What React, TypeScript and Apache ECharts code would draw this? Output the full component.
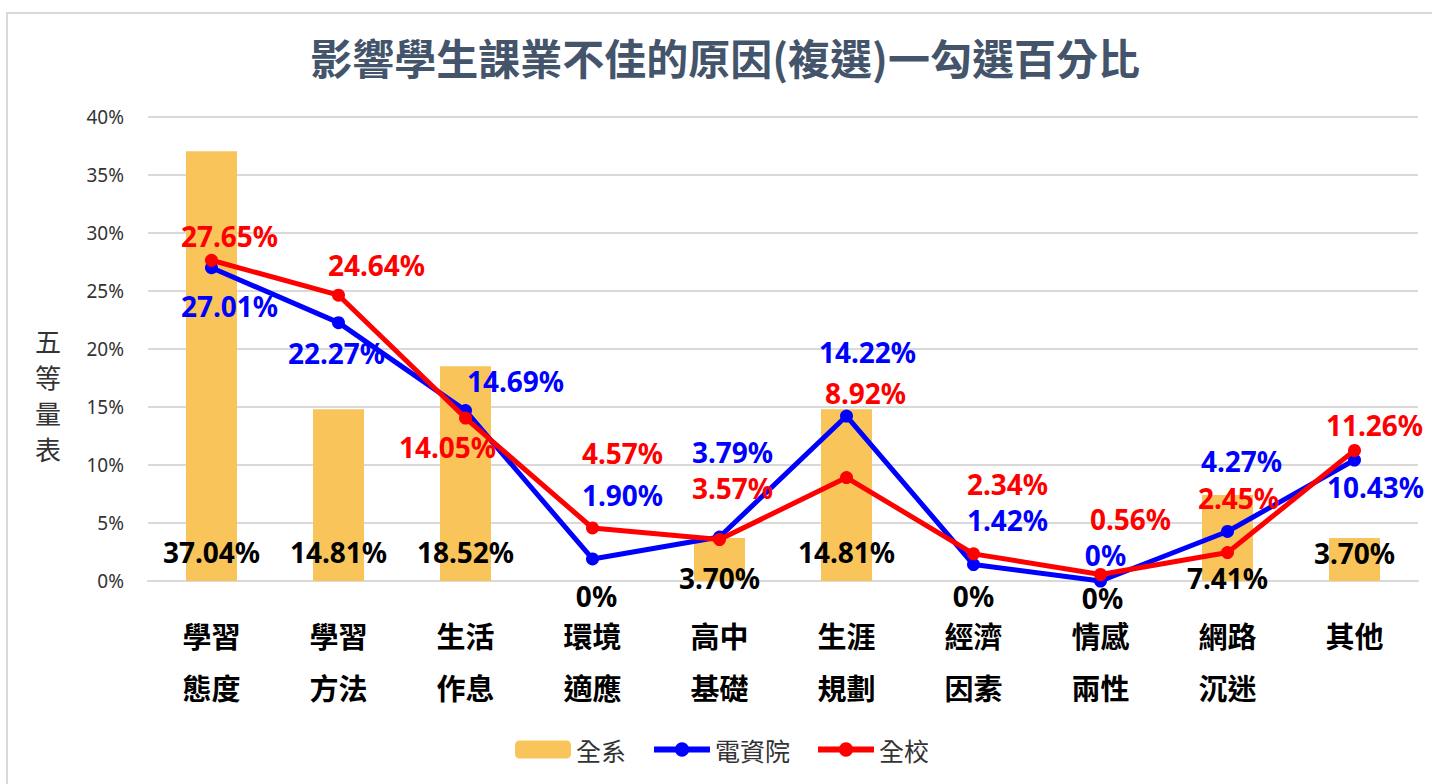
import React, { useEffect, useRef } from "react";
import * as echarts from "echarts";

// ---- Data ----
const categories = [
  "學習\n態度",
  "學習\n方法",
  "生活\n作息",
  "環境\n適應",
  "高中\n基礎",
  "生涯\n規劃",
  "經濟\n因素",
  "情感\n兩性",
  "網路\n沉迷",
  "其他",
];
const deptValues = [37.04, 14.81, 18.52, 0, 3.7, 14.81, 0, 0, 7.41, 3.7]; // 全系
const collegeValues = [27.01, 22.27, 14.69, 1.9, 3.79, 14.22, 1.42, 0, 4.27, 10.43]; // 電資院
const schoolValues = [27.65, 24.64, 14.05, 4.57, 3.57, 8.92, 2.34, 0.56, 2.45, 11.26]; // 全校
const seriesNames = ["全系", "電資院", "全校"];
const titleText = "影響學生課業不佳的原因(複選)一勾選百分比";
const yAxisName = "五\n等\n量\n表";
const yMin = 0;
const yMax = 40;
const yStep = 5;

// ---- Label layout (pixel offsets, styling only) ----
const barLabelOffsets = [
  [0, -15], [0, -15], [0, -15], [4, 29], [0, 11],
  [0, -15], [0, 29], [2, 31], [0, 11], [0, -14],
];
const collegeLabelOffsets = [
  [18, 38], [-2, 30], [50, -30], [30, -64], [13, -85],
  [21, -64], [34, -45], [5, -26], [14, -70], [21, 27],
];
const schoolLabelOffsets = [
  [18, -24], [38, -30], [-18, 29], [30, -75], [13, -52],
  [19, -85], [34, -70], [30, -56], [11, -55], [20, -25],
];

const CJK = "'Noto Sans CJK TC', 'Noto Sans CJK SC', sans-serif";
const NUM = "'Noto Sans', 'DejaVu Sans', sans-serif";

const fmt = (v: number) => (v === 0 ? "0%" : v.toFixed(2) + "%");

export default function App() {
  const ref = useRef<HTMLDivElement>(null);

  useEffect(() => {
    if (!ref.current) return;
    const chart = echarts.init(ref.current, undefined, { renderer: "svg" });

    const labelBase = {
      show: true,
      fontFamily: NUM,
      fontWeight: "bold" as const,
      fontSize: 28,
      lineHeight: 28,
    };

    const option: any = {
      animation: false,
      backgroundColor: "#ffffff",
      graphic: [
        {
          type: "rect",
          shape: { x: 7, y: 13, width: 1450, height: 800 },
          style: { fill: "none", stroke: "#d9d9d9", lineWidth: 2 },
          silent: true,
          z: -10,
        },
        {
          type: "text",
          x: 725,
          y: 56,
          style: {
            text: titleText,
            fontFamily: CJK,
            fontWeight: "bold",
            fontSize: 42,
            fill: "#44546A",
            textAlign: "center",
            textVerticalAlign: "middle",
          },
        },
        {
          type: "text",
          x: 48,
          y: 394,
          style: {
            text: yAxisName,
            fontFamily: CJK,
            fontSize: 26,
            lineHeight: 36,
            fill: "#333333",
            textAlign: "center",
            textVerticalAlign: "middle",
          },
        },
      ],
      legend: {
        left: 510,
        top: 732,
        itemWidth: 56,
        itemHeight: 18,
        itemGap: 25,
        lineStyle: { width: 6 },
        textStyle: { fontFamily: CJK, fontSize: 25, color: "#333333" },
        data: [
          { name: seriesNames[0] },
          { name: seriesNames[1], lineStyle: { width: 6 }, itemStyle: { color: "#0000FF" } },
          { name: seriesNames[2], lineStyle: { width: 6 }, itemStyle: { color: "#FF0000" } },
        ],
      },
      grid: { left: 148, right: 14, top: 117, bottom: 203 },
      xAxis: {
        type: "category",
        data: categories,
        axisLine: { show: true, lineStyle: { color: "#d9d9d9", width: 2 } },
        axisTick: { show: false },
        axisLabel: {
          margin: 39,
          formatter: (val: string) => {
            const parts = val.split("\n");
            return parts.length > 1 ? `{a|${parts[0]}}\n{b|${parts[1]}}` : `{a|${parts[0]}}`;
          },
          rich: {
            a: {
              fontFamily: CJK,
              fontWeight: "bold",
              fontSize: 29,
              lineHeight: 30,
              color: "#000000",
            },
            b: {
              fontFamily: CJK,
              fontWeight: "bold",
              fontSize: 29,
              lineHeight: 74,
              color: "#000000",
            },
          },
        },
      },
      yAxis: {
        type: "value",
        min: yMin,
        max: yMax,
        interval: yStep,
        axisLine: { show: false },
        axisTick: { show: false },
        splitLine: { lineStyle: { color: "#d9d9d9", width: 2 } },
        axisLabel: {
          formatter: "{value}%",
          margin: 24,
          fontFamily: NUM,
          fontSize: 19,
          color: "#333333",
        },
      },
      series: [
        {
          name: seriesNames[0],
          type: "bar",
          barWidth: 51,
          itemStyle: { color: "#F9C55B" },
          data: deptValues.map((v, i) => ({
            value: v,
            label: {
              ...labelBase,
              color: "#000000",
              position: "insideBottom",
              distance: 0,
              offset: barLabelOffsets[i],
              formatter: () => fmt(v),
            },
          })),
          z: 1,
        },
        {
          name: seriesNames[1],
          type: "line",
          symbol: "circle",
          symbolSize: 13,
          lineStyle: { color: "#0000FF", width: 5 },
          itemStyle: { color: "#0000FF" },
          data: collegeValues.map((v, i) => ({
            value: v,
            label: {
              ...labelBase,
              color: "#0000FF",
              position: "inside",
              offset: collegeLabelOffsets[i],
              formatter: () => fmt(v),
            },
          })),
          z: 3,
        },
        {
          name: seriesNames[2],
          type: "line",
          symbol: "circle",
          symbolSize: 13,
          lineStyle: { color: "#FF0000", width: 5 },
          itemStyle: { color: "#FF0000" },
          data: schoolValues.map((v, i) => ({
            value: v,
            label: {
              ...labelBase,
              color: "#FF0000",
              position: "inside",
              offset: schoolLabelOffsets[i],
              formatter: () => fmt(v),
            },
          })),
          z: 4,
        },
      ],
    };

    chart.setOption(option);
    return () => chart.dispose();
  }, []);

  return (
    <div
      ref={ref}
      style={{ position: "absolute", left: 0, top: 0, width: 1432, height: 784, background: "#fff" }}
    />
  );
}
